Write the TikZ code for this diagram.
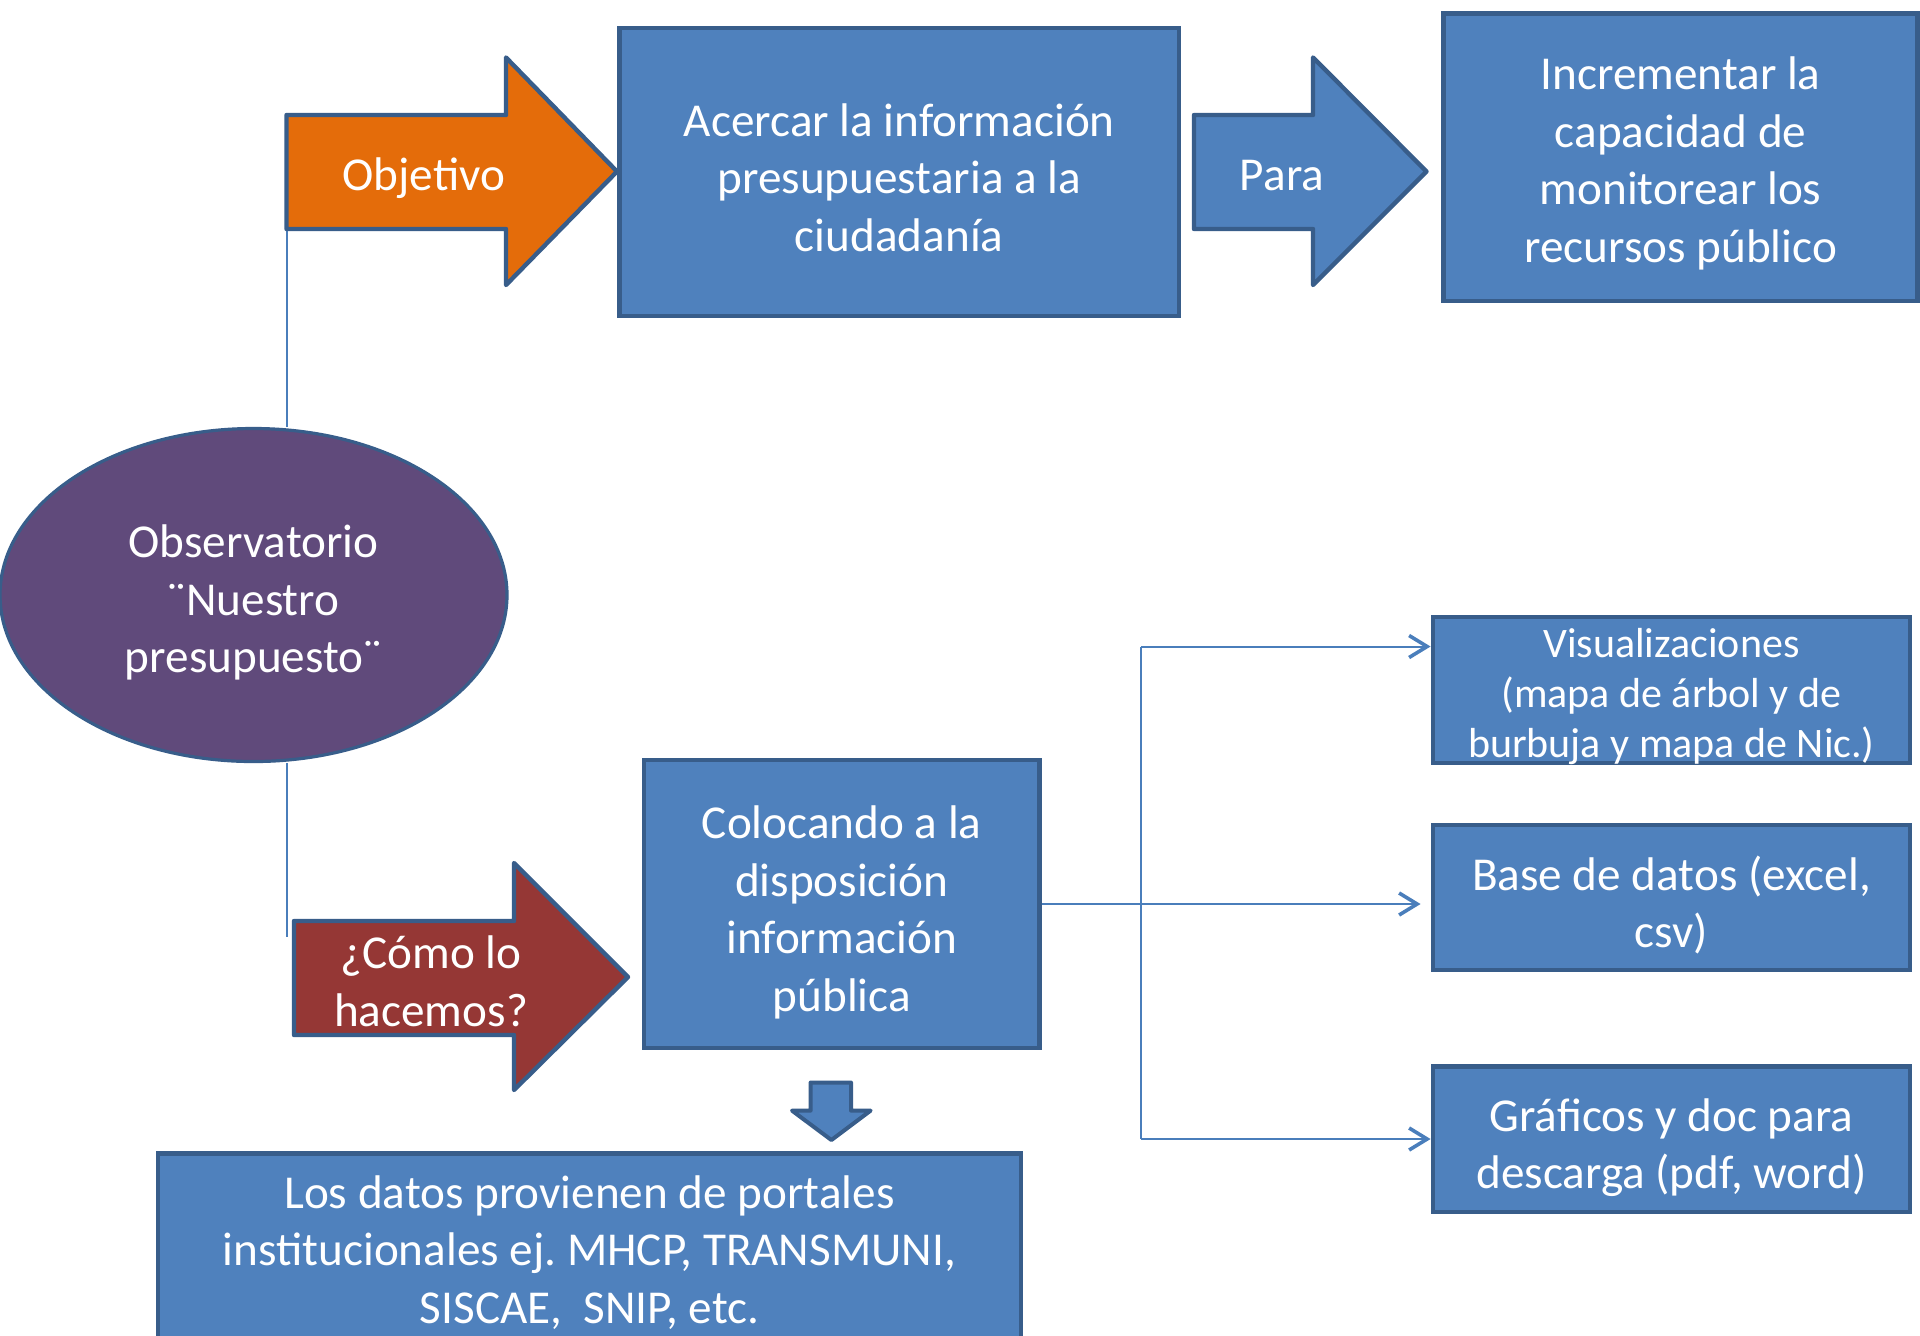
\documentclass[tikz,border=0pt]{standalone}
\usepackage{fontspec}
\setmainfont{Carlito}
\frenchspacing
\usetikzlibrary{arrows.meta,shapes.geometric}
\definecolor{boxblue}{HTML}{4F81BD}
\definecolor{boxborder}{HTML}{385D8A}
\definecolor{objorange}{HTML}{E46C0A}
\definecolor{comored}{HTML}{953735}
\definecolor{obspurple}{HTML}{604A7B}
\definecolor{connblue}{HTML}{4A7EBB}
\pgfdeclarelayer{bg}
\pgfsetlayers{bg,main}
\begin{document}
\begin{tikzpicture}[x=0.5pt,y=-0.5pt,
  bigtext/.style={text=white,align=center,font=\fontsize{23.6}{28.75}\selectfont},
  smalltext/.style={text=white,align=center,font=\fontsize{21}{25}\selectfont},
  box/.style={rectangle,draw=boxborder,fill=boxblue,line width=2.2pt,inner sep=0pt},
  blockarrow/.style={draw=boxborder,line width=2.2pt,line join=round},
  conn/.style={draw=connblue,line width=1pt},
  arr/.style={-{Straight Barb[length=9pt,width=11pt,line width=1.8pt]}}
]
\useasboundingbox (0,0) rectangle (1920,1335);
\clip (0,0) rectangle (1920,1335);
\begin{pgfonlayer}{bg}
\fill[white] (0,0) rectangle (1920,1335);
\end{pgfonlayer}

% named points
\coordinate (objml) at (286.5,172);
\coordinate (comoend) at (286.5,937);
\coordinate (jt) at (1141,646.5);
\coordinate (jb) at (1141,1139);

% ellipse
\node[ellipse,draw=boxborder,fill=obspurple,line width=1.6pt,minimum width=253.5pt,minimum height=166.5pt,inner sep=0pt] (obs) at (253.5,595) {};
\node[bigtext] (obstext) at ([yshift=-3.7pt]obs.center) {Observatorio\\¨Nuestro\\presupuesto¨};

% Objetivo block arrow
\filldraw[blockarrow,fill=objorange] (286.5,115) -- (506,115) -- (506,57.5) -- (617,171.5) -- (506,285) -- (506,229) -- (286.5,229) -- cycle;
\node[bigtext] (objetivo) at (424,178) {Objetivo};

% Acercar box
\node[box,minimum width=279.7pt,minimum height=144pt] (acercar) at (899.3,172) {};
\node[bigtext] (acercartext) at ([yshift=-2.8pt]acercar.center) {Acercar la información\\presupuestaria a la\\ciudadanía};

% Para block arrow
\filldraw[blockarrow,fill=boxblue] (1194,115) -- (1313,115) -- (1313,57.5) -- (1426.5,171.5) -- (1313,285) -- (1313,229) -- (1194,229) -- cycle;
\node[bigtext] (para) at (1282,176) {Para};

% Incrementar box
\node[box,minimum width=237pt,minimum height=143.75pt] (incr) at (1680.6,157.3) {};
\node[bigtext] (incrtext) at ([yshift=-3pt]incr.center) {Incrementar la\\capacidad de\\monitorear los\\recursos público};

% Como block arrow
\filldraw[blockarrow,fill=comored] (294,921) -- (514,921) -- (514,863) -- (628,977) -- (514,1090) -- (514,1035) -- (294,1035) -- cycle;
\node[bigtext] (como) at (431,981.5) {¿Cómo lo\\hacemos?};

% Colocando box
\node[box,minimum width=197.8pt,minimum height=144pt] (col) at (841.8,904) {};
\node[bigtext] (coltext) at ([yshift=-4.3pt]col.center) {Colocando a la\\disposición\\información\\pública};

% down arrow
\filldraw[blockarrow,line width=2pt,fill=boxblue] (810.6,1082.5) -- (851,1082.5) -- (851,1110.6) -- (870.6,1110.6) -- (831.4,1140) -- (792,1110.6) -- (810.6,1110.6) -- cycle;

% bottom box
\node[box,minimum width=431.5pt,minimum height=95.5pt] (datos) at (589.5,1249) {};
\node[bigtext] (datostext) at ([yshift=-1.8pt]datos.center) {Los datos provienen de portales\\institucionales ej. MHCP, TRANSMUNI,\\SISCAE,\ \ SNIP, etc.};

% right boxes
\node[box,minimum width=238.65pt,minimum height=73pt] (vis) at (1671.4,690) {};
\node[smalltext] (vistext) at ([yshift=-3pt]vis.center) {Visualizaciones\\(mapa de árbol y de\\burbuja y mapa de Nic.)};
\node[box,minimum width=238.65pt,minimum height=72.5pt] (base) at (1671.4,897.5) {};
\node[bigtext] (basetext) at ([yshift=-3.7pt]base.center) {Base de datos (excel,\\csv)};
\node[box,minimum width=238.65pt,minimum height=72.75pt] (gra) at (1671.4,1139.25) {};
\node[bigtext] (gratext) at ([yshift=-4.3pt]gra.center) {Gráficos y doc para\\descarga (pdf, word)};

% connectors (behind shapes)
\begin{pgfonlayer}{bg}
\draw[conn] (obs.north -| objml) -- (objml);
\draw[conn] (obs.south -| comoend) -- (comoend);
\end{pgfonlayer}
\draw[conn] (jt) -- (jb);
\draw[conn,arr] (col.east) -- ([xshift=-5pt]base.west |- col.east);
\draw[conn,arr] (jt) -- (jt -| vis.west);
\draw[conn,arr] (jb) -- (jb -| gra.west);
\end{tikzpicture}
\end{document}
